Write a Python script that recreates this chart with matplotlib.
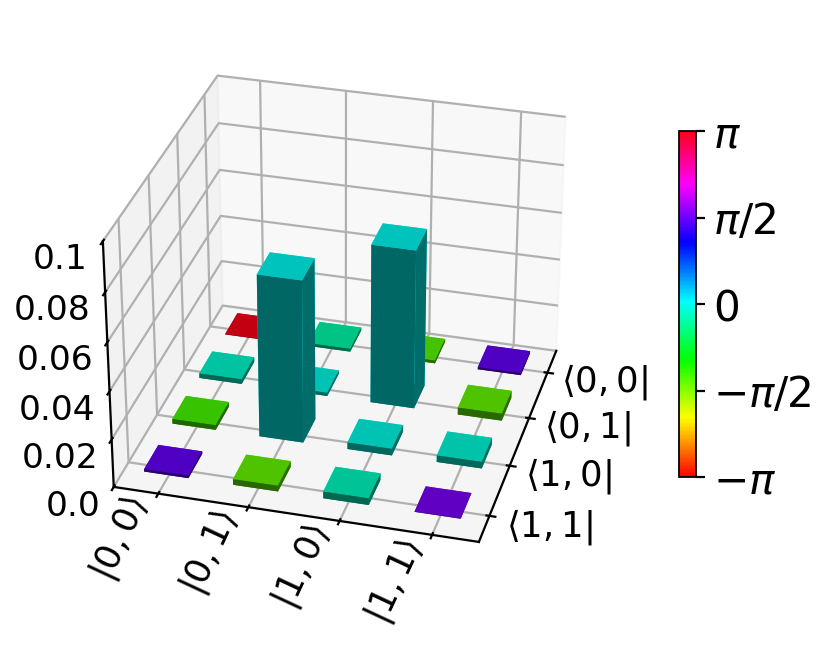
import numpy as np
import matplotlib
matplotlib.use("Agg")
import matplotlib.pyplot as plt
from matplotlib import cm, colors
from matplotlib.transforms import ScaledTranslation

x_labels = [r'$|0, 0\rangle$', r'$|0, 1\rangle$', r'$|1, 0\rangle$', r'$|1, 1\rangle$']
y_labels = [r'$\langle 0, 0|$', r'$\langle 0, 1|$', r'$\langle 1, 0|$', r'$\langle 1, 1|$']
z_ticks = [0.0, 0.02, 0.04, 0.06, 0.08, 0.1]
z_tick_labels = ['0.0', '0.02', '0.04', '0.06', '0.08', '0.1']
phase_ticks = [-np.pi, -np.pi/2, 0, np.pi/2, np.pi]
phase_labels = [r'$-\pi$', r'$-\pi/2$', r'$0$', r'$\pi/2$', r'$\pi$']

# rows follow y_labels, columns follow x_labels
amplitude = np.array([
    [0.0001, 0.0012, 0.0012, 0.0009],
    [0.0020, 0.0014, 0.0670, 0.0030],
    [0.0020, 0.0680, 0.0028, 0.0028],
    [0.0010, 0.0024, 0.0028, 0.0001],
])
phase_pi = np.array([
    [1.00, -0.09, -0.44, 0.49],
    [-0.04, -0.01, 0.00, -0.46],
    [-0.42, 0.00, -0.01, -0.03],
    [0.49, -0.46, -0.06, 0.52],
])

DPI = 160
fig = plt.figure(figsize=(831/DPI, 650/DPI), dpi=DPI)
ax = fig.add_axes([0.026, 0.0867, 0.7546, 0.882], projection='3d')
ax.view_init(elev=30, azim=-75)

n_rows, n_cols = amplitude.shape
col_idx, row_idx = np.meshgrid(np.arange(n_cols), np.arange(n_rows))
width = 0.5
norm = colors.Normalize(-np.pi, np.pi)
cmap = plt.get_cmap('hsv')
face = cmap(norm(phase_pi.ravel() * np.pi))

xpos = col_idx.ravel() - width / 2 - 0.03
ypos = (n_rows - 1 - row_idx.ravel()) - width / 2 + 0.12
ax.bar3d(xpos, ypos, np.zeros(xpos.size), width, width, amplitude.ravel(),
         color=face, edgecolor='none', shade=True,
         lightsource=colors.LightSource(azdeg=-42, altdeg=19.47))

ax.set_xlim(-0.5, n_cols - 0.5)
ax.set_ylim(-0.5, n_rows - 0.5)
ax.set_zlim(0, 0.1)
ax.set_xticks(np.arange(n_cols))
ax.set_xticklabels(x_labels, fontsize=16, rotation=65, ha='right', va='center')
ax.set_yticks(np.arange(n_rows))
ax.set_yticklabels(y_labels[::-1], fontsize=16, ha='left', va='center')
ax.set_zticks(z_ticks)
ax.set_zticklabels(z_tick_labels, fontsize=15.5, ha='right')
ax.zaxis.set_ticks_position('lower')
ax.zaxis.set_label_position('lower')
ax.xaxis.set_pane_color((0.90, 0.90, 0.90, 0.5))
ax.yaxis.set_pane_color((0.95, 0.95, 0.95, 0.5))
for axis in (ax.xaxis, ax.yaxis, ax.zaxis):
    axis._axinfo['grid']['linewidth'] = 1.0
    axis._axinfo['tick']['linewidth'] = {True: 1.0, False: 0.6}
    axis.line.set_linewidth(1.0)


def nudge(axis, dx_px, dy_px):
    # Axis3D resets label transforms whenever it fetches its ticks
    offset = ScaledTranslation(dx_px / DPI, dy_px / DPI, fig.dpi_scale_trans)
    original = axis.get_major_ticks

    def get_major_ticks(numticks=None):
        ticks = original(numticks)
        for tick in ticks:
            tick.label1.set_transform(ax.transData + offset)
        return ticks

    axis.get_major_ticks = get_major_ticks


nudge(ax.xaxis, 7, -8)
nudge(ax.yaxis, -15, 14)
nudge(ax.zaxis, 28, 10)

cax = fig.add_axes([679/831, 1 - 477/650, 17/831, 346/650])
sm = cm.ScalarMappable(norm=norm, cmap=cmap)
cb = fig.colorbar(sm, cax=cax)
cb.set_ticks(phase_ticks)
cb.set_ticklabels(phase_labels)
cb.ax.tick_params(labelsize=19, width=1.0, length=4)

fig.savefig('out.png', dpi=DPI)
